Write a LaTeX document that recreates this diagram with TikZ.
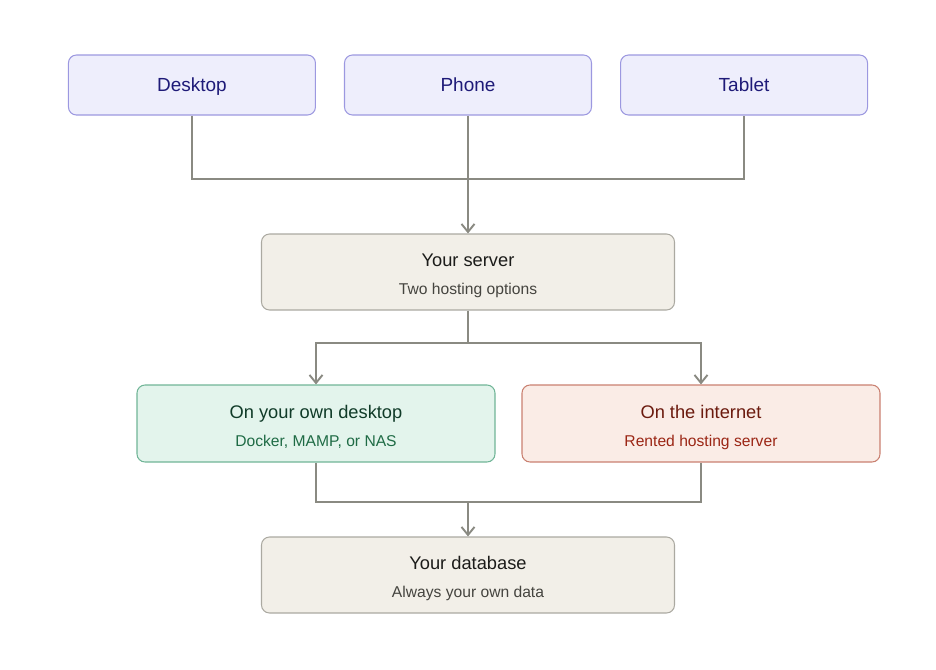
\documentclass[tikz,border=0pt]{standalone}
\usepackage{fontspec}
\setmainfont{Liberation Sans}
\usetikzlibrary{arrows.meta,positioning,calc}
\definecolor{devfill}{HTML}{EEEEFC}
\definecolor{devdraw}{HTML}{9C98E0}
\definecolor{devtext}{HTML}{1E1A78}
\definecolor{srvfill}{HTML}{F2EFE8}
\definecolor{srvdraw}{HTML}{ABA9A1}
\definecolor{srvtitle}{HTML}{1C1C1A}
\definecolor{srvsub}{HTML}{45443F}
\definecolor{ownfill}{HTML}{E3F4EC}
\definecolor{owndraw}{HTML}{70B597}
\definecolor{owntitle}{HTML}{103B28}
\definecolor{ownsub}{HTML}{1F6B45}
\definecolor{netfill}{HTML}{FAECE6}
\definecolor{netdraw}{HTML}{C98070}
\definecolor{nettitle}{HTML}{6B1A0E}
\definecolor{netsub}{HTML}{9B2615}
\definecolor{wiregray}{HTML}{8A8A82}
\tikzset{
  device/.style={
    rectangle, rounded corners=0.16cm, draw=devdraw, fill=devfill,
    line width=0.6pt, minimum width=4.94cm, minimum height=1.2cm,
    text height=0.72em, text depth=-0.06em,
    text=devtext, font=\fontsize{10.8}{12}\selectfont
  },
  hub/.style={
    rectangle, rounded corners=0.16cm, draw=srvdraw, fill=srvfill,
    line width=0.6pt, minimum width=8.26cm, minimum height=1.52cm,
    align=center
  },
  option/.style={
    rectangle, rounded corners=0.16cm, line width=0.6pt,
    minimum width=7.16cm, minimum height=1.54cm, align=center
  },
  wire/.style={draw=wiregray, line width=1.1pt},
  arrow/.style={wire, -{Straight Barb[length=1.6mm,width=2.6mm]}}
}
\newcommand{\boxtitle}[2]{{\fontsize{10.4}{12}\selectfont\color{#1}\rule{0pt}{1.12em}#2}}
\newcommand{\boxsub}[2]{{\fontsize{8.9}{10}\selectfont\color{#1}#2}}

\begin{document}
\begin{tikzpicture}
  \useasboundingbox (0,0) rectangle (18.72,-13.38);

  % Client devices
  \node[device] (phone) at (9.36,-1.70) {Phone};
  \node[device, left=0.56cm of phone] (desktop) {Desktop};
  \node[device, right=0.56cm of phone] (tablet) {Tablet};

  % Server and hosting options
  \node[hub] (server) at (9.36,-5.44)
    {\boxtitle{srvtitle}{Your server}\\[4pt]\boxsub{srvsub}{Two hosting options}};
  \node[option, draw=owndraw, fill=ownfill] (own) at (6.32,-8.47)
    {\boxtitle{owntitle}{On your own desktop}\\[4pt]\boxsub{ownsub}{Docker, MAMP, or NAS}};
  \node[option, draw=netdraw, fill=netfill] (net) at (14.02,-8.47)
    {\boxtitle{nettitle}{On the internet}\\[4pt]\boxsub{netsub}{Rented hosting server}};

  % Database
  \node[hub] (db) at (9.36,-11.50)
    {\boxtitle{srvtitle}{Your database}\\[4pt]\boxsub{srvsub}{Always your own data}};

  % Devices to server
  \coordinate (join) at (9.36,-3.58);
  \draw[wire] (desktop.south) |- (join) -| (tablet.south);
  \draw[wire] (phone.south) -- (join);
  \draw[arrow] (join) -- (server.north);

  % Server to options
  \coordinate (split) at (9.36,-6.86);
  \draw[wire] (server.south) -- (split);
  \draw[arrow] (split) -| (own.north);
  \draw[arrow] (split) -| (net.north);

  % Options to database
  \coordinate (merge) at (9.36,-10.04);
  \draw[wire] (own.south) |- (merge);
  \draw[wire] (net.south) |- (merge);
  \draw[arrow] (merge) -- (db.north);

\end{tikzpicture}
\end{document}
